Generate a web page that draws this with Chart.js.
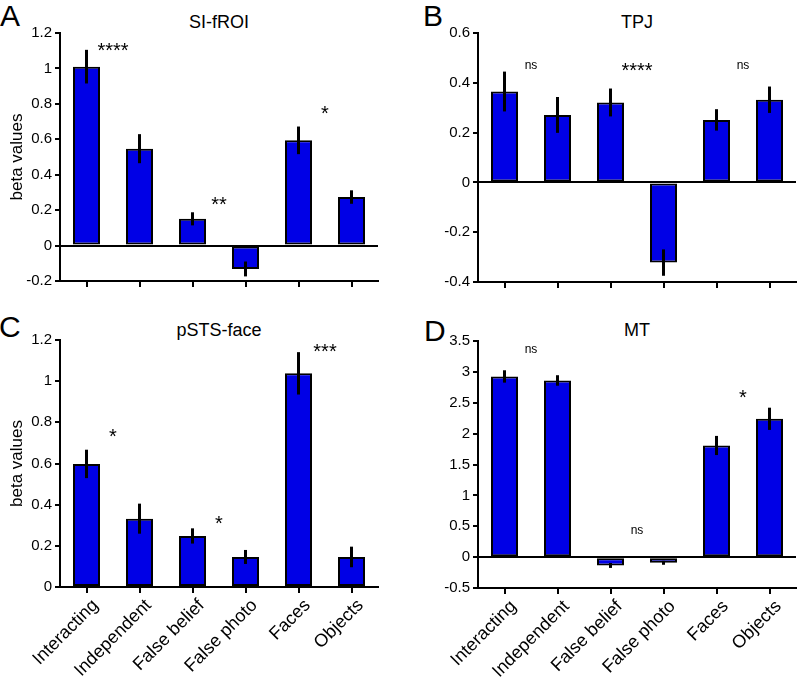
<!DOCTYPE html>
<html>
<head>
<meta charset="utf-8">
<script src="https://cdn.jsdelivr.net/npm/chart.js@4.4.1/dist/chart.umd.min.js"></script>
<style>
  body { margin: 0; background: #fff; width: 802px; height: 680px; position: relative; overflow: hidden;
         font-family: 'Liberation Sans', Arial, Helvetica, sans-serif; color: #000; }
  canvas { position: absolute; }
  .letter { position: absolute; font-size: 30px; line-height: 1; }
  .title { position: absolute; font-size: 18px; line-height: 1; width: 320px; text-align: center; }
</style>
</head>
<body>
<div class="letter" style="left:0px;top:1px">A</div>
<div class="title" style="left:59px;top:13px">SI-fROI</div>
<div class="letter" style="left:423px;top:1px">B</div>
<div class="title" style="left:477px;top:13px">TPJ</div>
<div class="letter" style="left:-1px;top:312px">C</div>
<div class="title" style="left:59px;top:321px">pSTS-face</div>
<div class="letter" style="left:424px;top:316px">D</div>
<div class="title" style="left:477px;top:321px">MT</div>

<canvas id="chartA" width="401" height="300" style="left:0;top:0"></canvas>
<canvas id="chartB" width="401" height="300" style="left:401px;top:0"></canvas>
<canvas id="chartC" width="401" height="360" style="left:0;top:320px"></canvas>
<canvas id="chartD" width="401" height="360" style="left:401px;top:320px"></canvas>

<script>
// conditions
const categories = ['Interacting', 'Independent', 'False belief', 'False photo', 'Faces', 'Objects'];

// A: SI-fROI
const sfroiMeans = [1.01, 0.547, 0.151, -0.132, 0.594, 0.274];
const sfroiErr   = [0.095, 0.082, 0.037, 0.042, 0.078, 0.038];
const sfroiTicks = [-0.2, 0, 0.2, 0.4, 0.6, 0.8, 1, 1.2];
const sfroiSig   = ['****', '**', '*'];
const sfroiSigAt = [0, 2, 4];
const sfroiSigY  = [1.13, 0.258, 0.776];

// B: TPJ
const tpjMeans = [0.365, 0.271, 0.321, -0.322, 0.251, 0.332];
const tpjErr   = [0.08, 0.072, 0.056, 0.053, 0.043, 0.053];
const tpjTicks = [-0.4, -0.2, 0, 0.2, 0.4, 0.6];
const tpjSig   = ['ns', '****', 'ns'];
const tpjSigAt = [0, 2, 4];
const tpjSigY  = [0.468, 0.468, 0.468];

// C: pSTS-face
const pstsMeans = [0.598, 0.332, 0.248, 0.146, 1.038, 0.146];
const pstsErr   = [0.069, 0.073, 0.037, 0.034, 0.103, 0.05];
const pstsTicks = [0, 0.2, 0.4, 0.6, 0.8, 1, 1.2];
const pstsSig   = ['*', '*', '***'];
const pstsSigAt = [0, 2, 4];
const pstsSigY  = [0.754, 0.333, 1.167];

// D: MT
const mtMeans = [2.926, 2.861, -0.135, -0.092, 1.808, 2.24];
const mtErr   = [0.1, 0.085, 0.04, 0.032, 0.155, 0.18];
const mtTicks = [-0.5, 0, 0.5, 1, 1.5, 2, 2.5, 3, 3.5];
const mtSig   = ['ns', 'ns', '*'];
const mtSigAt = [0, 2, 4];
const mtSigY  = [3.36, 0.42, 2.67];

const FONT = "'Liberation Sans', Arial, Helvetica, sans-serif";
const BLUE = '#0000e6';

// vertical error bars, drawn on top of the bars
const errorBars = {
    id: 'errorBars',
    afterDatasetsDraw(chart) {
        const ctx = chart.ctx;
        const y = chart.scales.y;
        const ds = chart.data.datasets[0];
        ctx.save();
        ctx.strokeStyle = '#000';
        ctx.lineWidth = 3;
        chart.getDatasetMeta(0).data.forEach((bar, i) => {
            const v = ds.data[i];
            ctx.beginPath();
            ctx.moveTo(bar.x, y.getPixelForValue(v - ds.errors[i]));
            ctx.lineTo(bar.x, y.getPixelForValue(v + ds.errors[i]));
            ctx.stroke();
        });
        ctx.restore();
    }
};

// significance marks placed between two neighbouring bars
const sigMarks = {
    id: 'sigMarks',
    afterDraw(chart, args, opts) {
        const ctx = chart.ctx;
        const {x, y} = chart.scales;
        ctx.save();
        ctx.fillStyle = '#000';
        ctx.textAlign = 'center';
        ctx.textBaseline = 'alphabetic';
        opts.texts.forEach((t, k) => {
            const px = (x.getPixelForValue(opts.at[k]) + x.getPixelForValue(opts.at[k] + 1)) / 2;
            const py = y.getPixelForValue(opts.ys[k]);
            if (t === 'ns') {
                ctx.font = '12px ' + FONT;
                ctx.fillText(t, px, py + 12 * 0.26);
            } else {
                ctx.font = '20px ' + FONT;
                ctx.fillText(t, px, py + 20 * 0.58);
            }
        });
        ctx.restore();
    }
};

const makePanel = (id, means, errs, ticks, sigT, sigAt, sigY, box) => {
    const el = document.getElementById(id);
    const W = el.width, H = el.height;
    new Chart(el, {
        type: 'bar',
        data: {
            labels: categories,
            datasets: [{
                data: means,
                errors: errs,
                backgroundColor: BLUE,
                borderColor: '#000',
                borderWidth: 2,
                borderSkipped: false,
                inflateAmount: 0,
                categoryPercentage: 1,
                barPercentage: 27 / 53
            }]
        },
        options: {
            responsive: false,
            animation: false,
            events: [],
            layout: { padding: { left: 0, top: box.top, right: W - box.right, bottom: 0 } },
            plugins: {
                legend: { display: false },
                tooltip: { enabled: false },
                sigMarks: { texts: sigT, at: sigAt, ys: sigY }
            },
            scales: {
                x: {
                    grid: { offset: false, drawOnChartArea: false, tickLength: 6, tickColor: '#000', lineWidth: 2 },
                    border: { color: '#000', width: 2 },
                    ticks: {
                        display: box.labels,
                        autoSkip: false,
                        minRotation: 45,
                        maxRotation: 45,
                        labelOffset: 9,
                        padding: 2,
                        color: '#000',
                        font: { family: FONT, size: 18 }
                    },
                    afterFit: s => { s.height = H - box.bottom; }
                },
                y: {
                    min: ticks[0],
                    max: ticks[ticks.length - 1],
                    grid: {
                        color: c => (c.tick && c.tick.value === 0) ? '#000' : 'rgba(0,0,0,0)',
                        lineWidth: 2,
                        tickLength: 5,
                        tickColor: '#000'
                    },
                    border: { color: '#000', width: 2 },
                    ticks: {
                        padding: 3,
                        color: '#000',
                        font: { family: FONT, size: 15 },
                        callback: v => String(v)
                    },
                    afterBuildTicks: s => { s.ticks = ticks.map(v => ({ value: v })); },
                    afterFit: s => { s.width = box.left; },
                    title: {
                        display: box.ylabel,
                        text: 'beta values',
                        color: '#000',
                        font: { family: FONT, size: 17 },
                        padding: { top: 7, bottom: 0 }
                    }
                }
            }
        },
        plugins: [errorBars, sigMarks]
    });
};

makePanel('chartA', sfroiMeans, sfroiErr, sfroiTicks, sfroiSig, sfroiSigAt, sfroiSigY,
    { left: 60, right: 378, top: 33, bottom: 281, labels: false, ylabel: true });
makePanel('chartB', tpjMeans, tpjErr, tpjTicks, tpjSig, tpjSigAt, tpjSigY,
    { left: 77, right: 395, top: 33, bottom: 282, labels: false, ylabel: false });
makePanel('chartC', pstsMeans, pstsErr, pstsTicks, pstsSig, pstsSigAt, pstsSigY,
    { left: 60, right: 378, top: 20, bottom: 267, labels: true, ylabel: true });
makePanel('chartD', mtMeans, mtErr, mtTicks, mtSig, mtSigAt, mtSigY,
    { left: 77, right: 395, top: 21, bottom: 268, labels: true, ylabel: false });
</script>
</body>
</html>
